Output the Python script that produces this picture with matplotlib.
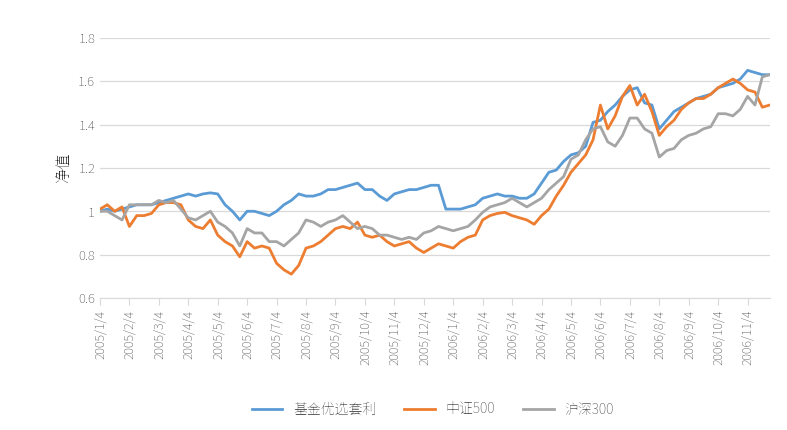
import matplotlib
matplotlib.use("Agg")
import matplotlib.pyplot as plt
from matplotlib import font_manager as fm
import numpy as np

cjk = None
for f in fm.findSystemFonts():
    n = f.lower()
    if "notosanscjk" in n.replace("-", "").replace("_", "") or "notosanssc" in n.replace("-", ""):
        try:
            fm.fontManager.addfont(f)
            name = fm.FontProperties(fname=f).get_name()
            if cjk is None or "SC" in name:
                cjk = name
        except Exception:
            pass
plt.rcParams["font.family"] = [cjk or "Noto Sans CJK SC", "DejaVu Sans"]

months = ["2005/1/4","2005/2/4","2005/3/4","2005/4/4","2005/5/4","2005/6/4","2005/7/4",
          "2005/8/4","2005/9/4","2005/10/4","2005/11/4","2005/12/4","2006/1/4","2006/2/4",
          "2006/3/4","2006/4/4","2006/5/4","2006/6/4","2006/7/4","2006/8/4","2006/9/4",
          "2006/10/4","2006/11/4"]

fund = [1.0,1.01,1.0,1.01, 1.02,1.03,1.03,1.03, 1.04,1.05,1.06,1.07, 1.08,1.07,1.08,1.085,
        1.08,1.03,1.0,0.96, 1.0,1.0,0.99,0.98, 1.0,1.03,1.05,1.08, 1.07,1.07,1.08,1.1,
        1.1,1.11,1.12,1.13, 1.1,1.1,1.07,1.05, 1.08,1.09,1.1,1.1, 1.11,1.12,1.12,1.01,
        1.01,1.01,1.02,1.03, 1.06,1.07,1.08,1.07, 1.07,1.06,1.06,1.08, 1.13,1.18,1.19,1.23,
        1.26,1.27,1.30,1.41, 1.42,1.46,1.49,1.53, 1.56,1.57,1.50,1.49, 1.38,1.42,1.46,1.48,
        1.50,1.52,1.53,1.54, 1.57,1.58,1.59,1.61, 1.65,1.64,1.63,1.63]
zz500 = [1.01,1.03,1.0,1.02, 0.93,0.98,0.98,0.99, 1.03,1.04,1.04,1.03, 0.96,0.93,0.92,0.96,
         0.89,0.86,0.84,0.79, 0.86,0.83,0.84,0.83, 0.76,0.73,0.71,0.75, 0.83,0.84,0.86,0.89,
         0.92,0.93,0.92,0.95, 0.89,0.88,0.89,0.86, 0.84,0.85,0.86,0.83, 0.81,0.83,0.85,0.84,
         0.83,0.86,0.88,0.89, 0.96,0.98,0.99,0.995, 0.98,0.97,0.96,0.94, 0.98,1.01,1.07,1.12,
         1.18,1.22,1.26,1.33, 1.49,1.38,1.44,1.53, 1.58,1.49,1.54,1.46, 1.35,1.39,1.42,1.47,
         1.50,1.52,1.52,1.54, 1.57,1.59,1.61,1.59, 1.56,1.55,1.48,1.49]
hs300 = [1.0,1.0,0.98,0.96, 1.03,1.03,1.03,1.03, 1.05,1.04,1.05,1.01, 0.97,0.96,0.98,1.0,
         0.95,0.93,0.90,0.84, 0.92,0.90,0.90,0.86, 0.86,0.84,0.87,0.90, 0.96,0.95,0.93,0.95,
         0.96,0.98,0.95,0.92, 0.93,0.92,0.89,0.89, 0.88,0.87,0.88,0.87, 0.90,0.91,0.93,0.92,
         0.91,0.92,0.93,0.96, 0.995,1.02,1.03,1.04, 1.06,1.04,1.02,1.04, 1.06,1.10,1.13,1.16,
         1.24,1.26,1.33,1.38, 1.39,1.32,1.30,1.35, 1.43,1.43,1.38,1.36, 1.25,1.28,1.29,1.33,
         1.35,1.36,1.38,1.39, 1.45,1.45,1.44,1.47, 1.53,1.49,1.62,1.63]

x = np.arange(len(fund)) / 4.0

fig = plt.figure(figsize=(7.87, 4.30), dpi=100)
ax = fig.add_axes([0.127, 0.307, 0.851, 0.605])
ax.plot(x, fund, color="#5B9BD5", lw=2.0, label="基金优选套利")
ax.plot(x, zz500, color="#ED7D31", lw=2.0, label="中证500")
ax.plot(x, hs300, color="#A5A5A5", lw=2.0, label="沪深300")

ax.set_xlim(0, 22.75)
ax.set_ylim(0.6, 1.8)
ax.set_yticks([0.6, 0.8, 1.0, 1.2, 1.4, 1.6, 1.8])
ax.set_yticklabels(["0.6", "0.8", "1", "1.2", "1.4", "1.6", "1.8"])
ax.set_xticks(np.arange(len(months)))
ax.set_xticklabels(months, rotation=90)
ax.tick_params(axis="x", colors="#D9D9D9", labelcolor="#595959", labelsize=9, length=5)
ax.tick_params(axis="y", length=0, labelcolor="#595959", labelsize=9.5)
ax.grid(axis="y", color="#D9D9D9", lw=0.9)
ax.set_axisbelow(True)
for s in ["top", "right", "left"]:
    ax.spines[s].set_visible(False)
ax.spines["bottom"].set_color("#D9D9D9")
ax.set_ylabel("净值", fontsize=11, fontweight="bold", color="#262626")

fig.legend(loc="lower center", bbox_to_anchor=(0.55, 0.0), ncol=3, frameon=False,
           fontsize=10, handlelength=2.2, labelcolor="#595959")
fig.savefig("out.png", dpi=100)
